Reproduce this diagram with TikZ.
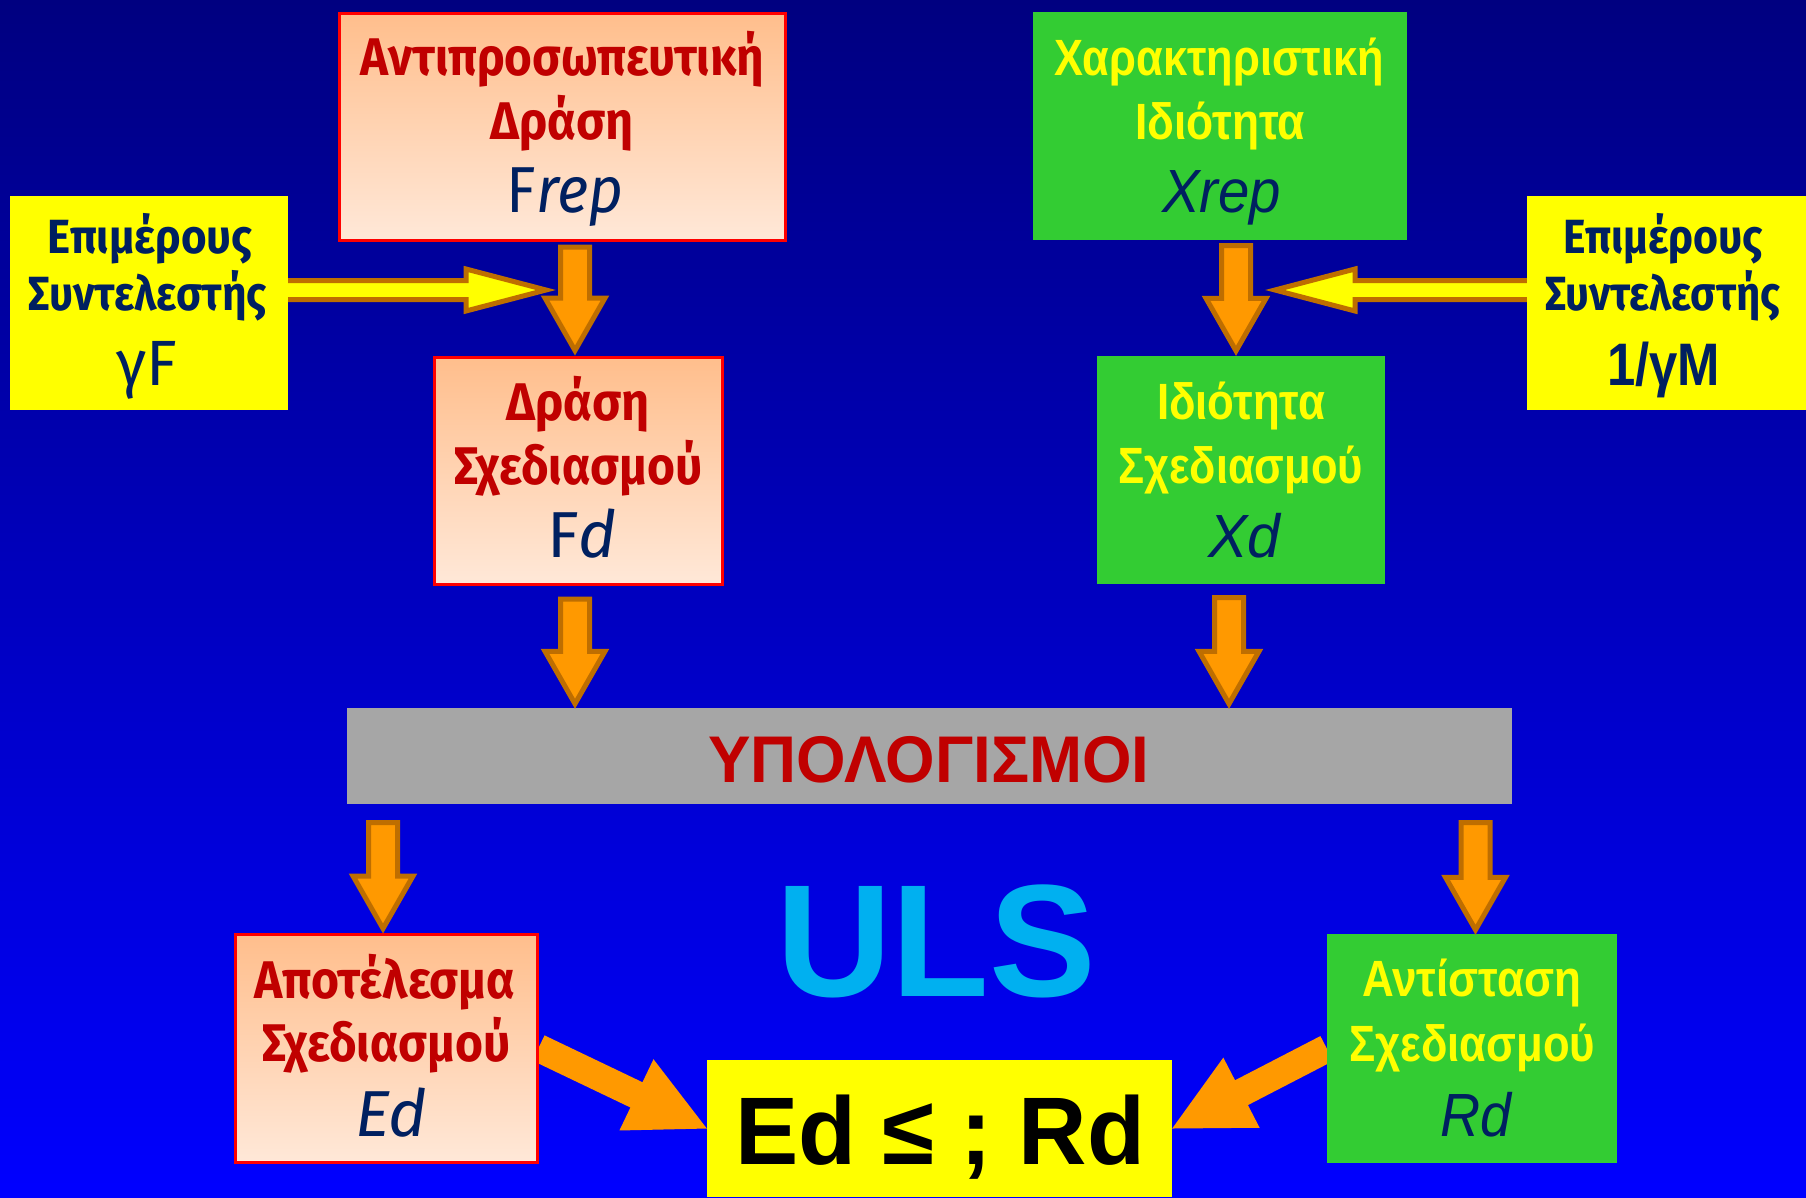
\documentclass[tikz,border=0pt]{standalone}
\usepackage{fontspec}
\usepackage{graphicx}
\usetikzlibrary{calc}
\setmainfont{Liberation Sans}
\newfontfamily\hum{Fira Sans}
\newfontfamily\ari{Liberation Sans}
\definecolor{bgtop}{RGB}{0,0,128}
\definecolor{bgbot}{RGB}{0,0,255}
\definecolor{peachtop}{RGB}{255,190,140}
\definecolor{peachbot}{RGB}{255,232,216}
\definecolor{boxred}{RGB}{255,0,0}
\definecolor{txtred}{RGB}{192,0,0}
\definecolor{navy}{RGB}{0,32,96}
\definecolor{grn}{RGB}{51,204,51}
\definecolor{ylw}{RGB}{255,255,0}
\definecolor{org}{RGB}{255,153,0}
\definecolor{orgline}{RGB}{190,110,0}
\definecolor{calcgray}{RGB}{166,166,166}
\definecolor{cyanuls}{RGB}{0,176,240}
\newcommand\fsz[1]{\fontsize{#1}{#1}\selectfont}
\newcommand\fitw[2]{\resizebox{#1}{\height}{#2}}
% block arrow: style, start, tip, shaft half width, head half width, head length
\newcommand\blockarr[6]{%
  \path (#2) coordinate (tmpS) (#3) coordinate (tmpP);
  \path ($(tmpP)!#6!(tmpS)$) coordinate (tmpH);
  \draw[#1] ($(tmpS)!#4!90:(tmpP)$) -- ($(tmpH)!#4!90:(tmpP)$) -- ($(tmpH)!#5!90:(tmpP)$)
    -- (tmpP) -- ($(tmpH)!#5!-90:(tmpP)$) -- ($(tmpH)!#4!-90:(tmpP)$)
    -- ($(tmpS)!#4!-90:(tmpP)$) -- cycle;}
\pgfdeclarelayer{back}
\pgfdeclarelayer{behind}
\pgfsetlayers{back,behind,main}
\tikzset{
  peachbox/.style={rectangle, draw=boxred, line width=3pt, top color=peachtop, bottom color=peachbot, inner sep=0pt},
  greenbox/.style={rectangle, fill=grn, inner sep=0pt},
  yelbox/.style={rectangle, fill=ylw, inner sep=0pt},
  graybar/.style={rectangle, fill=calcgray, inner sep=0pt},
  lbl/.style={anchor=base, inner sep=0pt, outer sep=0pt},
  vblock/.style={fill=org, draw=orgline, line width=5pt, line join=miter, miter limit=10},
  yblock/.style={fill=ylw, draw=orgline, line width=5pt, line join=miter, miter limit=10},
  dblock/.style={fill=org, draw=none},
}
\begin{document}
\begin{tikzpicture}[x=1pt,y=-1pt]
\useasboundingbox (0,0) rectangle (1806,1197);
\begin{pgfonlayer}{back}
  \shade[top color=bgtop, bottom color=bgbot] (0,0) rectangle (1806,1197);
\end{pgfonlayer}

% boxes
\node[peachbox, minimum width=446pt, minimum height=227pt] (frep) at (562,126.5) {};
\node[yelbox, minimum width=278pt, minimum height=214pt] (gf) at (149,303) {};
\node[peachbox, minimum width=288pt, minimum height=227pt] (fd) at (578,470.5) {};
\node[greenbox, minimum width=374pt, minimum height=228pt] (xrep) at (1220,126) {};
\node[yelbox, minimum width=280pt, minimum height=214pt] (gm) at (1667,303) {};
\node[greenbox, minimum width=288pt, minimum height=228pt] (xd) at (1241,470) {};
\node[graybar, minimum width=1165pt, minimum height=96pt] (calc) at (929.5,756) {};
\node[peachbox, minimum width=302pt, minimum height=228pt] (ed) at (386,1048) {};
\node[greenbox, minimum width=290pt, minimum height=229pt] (rd) at (1472,1048.5) {};
\node[yelbox, minimum width=465pt, minimum height=137pt] (res) at (939.5,1128.5) {};

% arrows behind the boxes
\coordinate (ytl) at (546,290);
\coordinate (ytr) at (1275,290);
\begin{pgfonlayer}{behind}
  \blockarr{yblock}{[xshift=-10pt,yshift=13pt]gf.east}{ytl}{9.5pt}{21pt}{80pt}
  \blockarr{yblock}{[xshift=10pt,yshift=13pt]gm.west}{ytr}{9.5pt}{21pt}{80pt}
  \blockarr{dblock}{ed.east}{res.west}{14pt}{39.5pt}{78pt}
  \blockarr{dblock}{rd.west}{res.east}{14pt}{39.5pt}{78pt}
\end{pgfonlayer}

% vertical arrows
\coordinate (a3s) at ([xshift=-3pt,yshift=-13.5pt]fd.south);
\coordinate (a3t) at (a3s |- calc.north);
\coordinate (a4s) at ([xshift=-12pt,yshift=-13.5pt]xd.south);
\coordinate (a4t) at (a4s |- calc.north);
\coordinate (a5b) at (ed.north |- calc.south);
\coordinate (a5s) at ([xshift=-3pt,yshift=-18.5pt]a5b);
\coordinate (a5t) at (a5s |- ed.north);
\coordinate (a6b) at (rd.north |- calc.south);
\coordinate (a6s) at ([xshift=3.5pt,yshift=-18.5pt]a6b);
\coordinate (a6t) at (a6s |- rd.north);
\blockarr{vblock}{[xshift=13pt,yshift=-5.5pt]frep.south}{[xshift=-3pt,yshift=5pt]fd.north}{14.5pt}{30pt}{52.5pt}
\blockarr{vblock}{[xshift=16pt,yshift=-5.5pt]xrep.south}{[xshift=-5pt,yshift=5pt]xd.north}{14.5pt}{30pt}{52.5pt}
\blockarr{vblock}{a3s}{[yshift=4pt]a3t}{14.5pt}{30pt}{52.5pt}
\blockarr{vblock}{a4s}{[yshift=4pt]a4t}{14.5pt}{30pt}{52.5pt}
\blockarr{vblock}{a5s}{[yshift=4pt]a5t}{14.5pt}{30pt}{52.5pt}
\blockarr{vblock}{a6s}{[yshift=4pt]a6t}{14.5pt}{30pt}{52.5pt}

% texts
\node[lbl, text=txtred] (frep1) at (562,75) {\hum\bfseries\fsz{53}\fitw{404pt}{Αντιπροσωπευτική}};
\node[lbl, text=txtred] (frep2) at (562,139) {\hum\bfseries\fsz{53}\fitw{143pt}{Δράση}};
\node[lbl, text=navy] (frep3) at (565,212) {\hum\fsz{65}\fitw{117pt}{F\textit{rep}}};

\node[lbl, text=navy] (gf1) at (150,253) {\hum\bfseries\fsz{48}\fitw{205pt}{Επιμέρους}};
\node[lbl, text=navy] (gf2) at (148,310) {\hum\bfseries\fsz{48}\fitw{238pt}{Συντελεστής}};
\node[lbl, text=navy] (gf3) at (146.5,385) {\hum\fsz{64}\fitw{61pt}{γF}};

\node[lbl, text=txtred] (fd1) at (578,420) {\hum\bfseries\fsz{53}\fitw{143pt}{Δράση}};
\node[lbl, text=txtred] (fd2) at (578,484) {\hum\bfseries\fsz{53}\fitw{248pt}{Σχεδιασμού}};
\node[lbl, text=navy] (fd3) at (582,557) {\hum\fsz{65}\fitw{70pt}{F\textit{d}}};

\node[lbl, text=ylw] (xrep1) at (1219,75) {\ari\bfseries\fsz{51}\fitw{330pt}{Χαρακτηριστική}};
\node[lbl, text=ylw] (xrep2) at (1220,139) {\ari\bfseries\fsz{51}\fitw{170pt}{Ιδιότητα}};
\node[lbl, text=navy] (xrep3) at (1221.5,212) {\ari\itshape\fsz{61}\fitw{119pt}{Xrep}};

\node[lbl, text=navy] (gm1) at (1663,253) {\hum\bfseries\fsz{48}\fitw{200pt}{Επιμέρους}};
\node[lbl, text=navy] (gm2) at (1663,310) {\hum\bfseries\fsz{48}\fitw{235pt}{Συντελεστής}};
\node[lbl, text=navy] (gm3) at (1663.5,385) {\ari\bfseries\fsz{60}\fitw{113pt}{1/γM}};

\node[lbl, text=ylw] (xd1) at (1241,419) {\ari\bfseries\fsz{51}\fitw{168pt}{Ιδιότητα}};
\node[lbl, text=ylw] (xd2) at (1240.5,483) {\ari\bfseries\fsz{51}\fitw{245pt}{Σχεδιασμού}};
\node[lbl, text=navy] (xd3) at (1244,557) {\ari\itshape\fsz{61}\fitw{72pt}{Xd}};

\node[lbl, text=txtred] (calct) at (929,782.5) {\ari\bfseries\fsz{66}\fitw{441pt}{ΥΠΟΛΟΓΙΣΜΟΙ}};

\node[lbl, text=cyanuls] (uls) at (936,996) {\ari\bfseries\fsz{160}ULS};

\node[lbl, text=txtred] (ed1) at (385,998) {\hum\bfseries\fsz{53}\fitw{261pt}{Αποτέλεσμα}};
\node[lbl, text=txtred] (ed2) at (386,1061) {\hum\bfseries\fsz{53}\fitw{248pt}{Σχεδιασμού}};
\node[lbl, text=navy] (ed3) at (391,1136) {\hum\itshape\fsz{65}\fitw{72pt}{Ed}};

\node[lbl, text=ylw] (rd1) at (1471.5,996) {\ari\bfseries\fsz{51}\fitw{219pt}{Αντίσταση}};
\node[lbl, text=ylw] (rd2) at (1472,1061) {\ari\bfseries\fsz{51}\fitw{246pt}{Σχεδιασμού}};
\node[lbl, text=navy] (rd3) at (1476,1136) {\ari\itshape\fsz{61}\fitw{71pt}{Rd}};

\node[lbl, text=black] (rest) at (940,1164) {\ari\bfseries\fsz{96}\fitw{410pt}{Ed ≤ ; Rd}};
\end{tikzpicture}
\end{document}
